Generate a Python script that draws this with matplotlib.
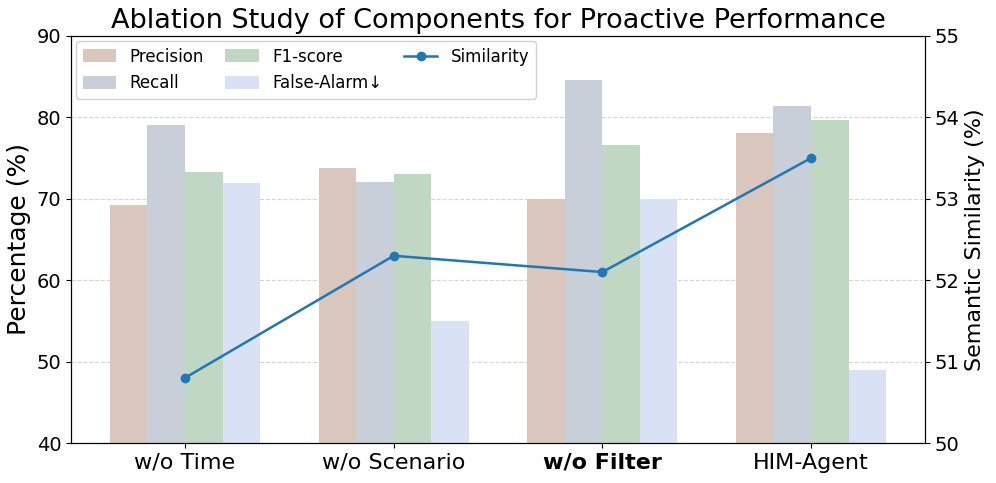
import matplotlib
matplotlib.use("Agg")
import matplotlib.pyplot as plt
import numpy as np

categories = ["w/o Time", "w/o Scenario", "w/o Filter", "HIM-Agent"]
precision = [69.2, 73.8, 70.0, 78.1]
recall = [79.1, 72.1, 84.6, 81.4]
f1 = [73.3, 73.0, 76.6, 79.7]
false_alarm = [72.0, 55.0, 70.0, 49.0]
similarity = [50.8, 52.3, 52.1, 53.5]

series_names = ["Precision", "Recall", "F1-score", "False-Alarm\u2193"]
colors = ["#d9c6bd", "#c8cfd9", "#c0d7c3", "#d9e1f4"]

fig, ax = plt.subplots(figsize=(9.96, 4.83), dpi=100)
fig.subplots_adjust(left=0.0713, right=0.9287, top=0.9255, bottom=0.0828)

x = np.arange(len(categories))
w = 0.18
data = [precision, recall, f1, false_alarm]
handles = []
for i, (vals, name, c) in enumerate(zip(data, series_names, colors)):
    h = ax.bar(x + (i - 1.5) * w, vals, w, color=c, label=name, zorder=2)
    handles.append(h)

ax.set_ylim(40, 90)
ax.set_yticks(range(40, 91, 10))
ax.set_ylabel("Percentage (%)", fontsize=18)
ax.set_xticks(x)
ax.set_xticklabels(categories, fontsize=16)
ax.get_xticklabels()[2].set_fontweight("bold")
ax.tick_params(axis="y", labelsize=14)
ax.grid(axis="y", linestyle="--", color="#d5d5d5", linewidth=0.8, zorder=0)
ax.set_axisbelow(True)
ax.set_title("Ablation Study of Components for Proactive Performance", fontsize=19.5)

ax2 = ax.twinx()
ln, = ax2.plot(x, similarity, color="#1f77b4", marker="o", markersize=6, linewidth=1.8, label="Similarity")
ax2.set_ylim(50, 55)
ax2.set_yticks(range(50, 56))
ax2.set_ylabel("Semantic Similarity (%)", fontsize=16)
ax2.tick_params(axis="y", labelsize=14)

ax.legend(handles + [ln], series_names + ["Similarity"], loc="upper left", ncol=3,
          fontsize=12, framealpha=0.9, columnspacing=1.3, borderaxespad=0.3,
          handleheight=0.8)

fig.savefig("out.png", dpi=100)
